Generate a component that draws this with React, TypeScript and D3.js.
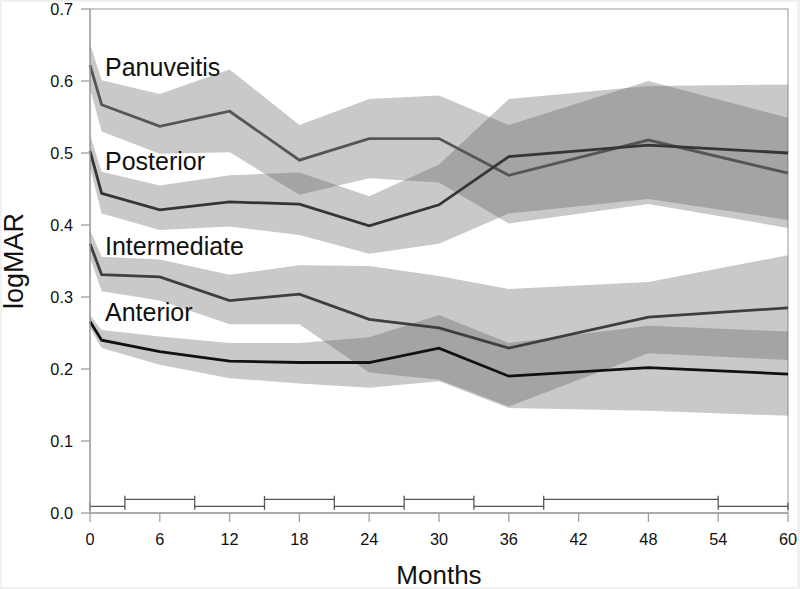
import React from "react";
import * as d3 from "d3";

const months = [0, 1, 6, 12, 18, 24, 30, 36, 48, 60];

const panuveitis = [0.622, 0.567, 0.537, 0.558, 0.49, 0.52, 0.52, 0.469, 0.518, 0.472];
const panuveitisUpper = [0.652, 0.601, 0.582, 0.616, 0.539, 0.575, 0.58, 0.539, 0.6, 0.549];
const panuveitisLower = [0.59, 0.53, 0.499, 0.501, 0.442, 0.465, 0.459, 0.402, 0.429, 0.396];

const posterior = [0.503, 0.444, 0.421, 0.432, 0.429, 0.399, 0.428, 0.495, 0.511, 0.5];
const posteriorUpper = [0.525, 0.474, 0.455, 0.469, 0.473, 0.44, 0.484, 0.575, 0.593, 0.595];
const posteriorLower = [0.48, 0.416, 0.393, 0.398, 0.386, 0.36, 0.374, 0.416, 0.436, 0.407];

const intermediate = [0.374, 0.331, 0.328, 0.295, 0.304, 0.269, 0.257, 0.229, 0.272, 0.285];
const intermediateUpper = [0.393, 0.356, 0.352, 0.331, 0.344, 0.343, 0.329, 0.311, 0.321, 0.358];
const intermediateLower = [0.355, 0.308, 0.295, 0.262, 0.262, 0.195, 0.185, 0.148, 0.222, 0.2125];

const anterior = [0.266, 0.24, 0.224, 0.211, 0.209, 0.209, 0.229, 0.19, 0.202, 0.193];
const anteriorUpper = [0.275, 0.254, 0.245, 0.236, 0.236, 0.244, 0.275, 0.236, 0.26, 0.252];
const anteriorLower = [0.257, 0.229, 0.206, 0.187, 0.18, 0.174, 0.183, 0.146, 0.142, 0.135];

const seriesNames = ["Panuveitis", "Posterior", "Intermediate", "Anterior"];
const labelValues = [0.607, 0.477, 0.358, 0.266];

const xTicks = [0, 6, 12, 18, 24, 30, 36, 42, 48, 54, 60];
const yTicks = [0, 0.1, 0.2, 0.3, 0.4, 0.5, 0.6, 0.7];

// follow-up interval brackets
const bracketStarts = [0, 3, 9, 15, 21, 27, 33, 39, 54];
const bracketEnds = [3, 9, 15, 21, 27, 33, 39, 54, 60];
const bracketLevels = [0.0093, 0.019, 0.0093, 0.019, 0.0093, 0.019, 0.0093, 0.019, 0.0093];

const W = 800;
const H = 589;
const left = 90;
const right = 788;
const top = 9;
const bottom = 513;

export default function App() {
  const x = d3.scaleLinear().domain([0, 60]).range([left, right]);
  const y = d3.scaleLinear().domain([0, 0.7]).range([bottom, top]);

  const series = [
    { name: "Panuveitis", mid: panuveitis, up: panuveitisUpper, lo: panuveitisLower, color: "#555555" },
    { name: "Posterior", mid: posterior, up: posteriorUpper, lo: posteriorLower, color: "#353535" },
    { name: "Intermediate", mid: intermediate, up: intermediateUpper, lo: intermediateLower, color: "#3e3e3e" },
    { name: "Anterior", mid: anterior, up: anteriorUpper, lo: anteriorLower, color: "#111111" },
  ];

  const lineGen = d3
    .line<number>()
    .x((_, i) => x(months[i]))
    .y((d) => y(d));

  const bandPath = (up: number[], lo: number[]) =>
    d3
      .area<number>()
      .x((_, i) => x(months[i]))
      .y0((_, i) => y(lo[i]))
      .y1((_, i) => y(up[i]))(months);

  const font = "'Liberation Sans', Arial, sans-serif";

  return (
    <svg
      width={W}
      height={H}
      style={{ position: "fixed", left: 0, top: 0 }}
      fontFamily={font}
    >
      <rect x={0} y={0} width={W} height={H} fill="#f1f1f1" />
      <rect x={2} y={2} width={795} height={585} fill="#ffffff" />

      <rect x={left} y={top} width={right - left} height={bottom - top} fill="none" stroke="#a8a8a8" strokeWidth={1.2} />

      {series.map((s) => (
        <path key={s.name + "b"} d={bandPath(s.up, s.lo) || ""} fill="#575757" fillOpacity={0.32} />
      ))}

      {series.map((s) => (
        <path key={s.name + "l"} d={lineGen(s.mid) || ""} fill="none" stroke={s.color} strokeWidth={2.8} />
      ))}

      {seriesNames.map((n, i) => (
        <text key={n} x={105} y={y(labelValues[i])} fontSize={25} fill="#111">
          {n}
        </text>
      ))}

      {bracketStarts.map((s, i) => {
        const yy = y(bracketLevels[i]);
        const x0 = x(s);
        const x1 = x(bracketEnds[i]);
        return (
          <g key={"br" + i} stroke="#555" strokeWidth={1.3}>
            <line x1={x0} x2={x1} y1={yy} y2={yy} />
            <line x1={x0} x2={x0} y1={yy - 3.5} y2={yy + 3.5} />
            <line x1={x1} x2={x1} y1={yy - 3.5} y2={yy + 3.5} />
          </g>
        );
      })}

      <line x1={left} x2={left} y1={top} y2={bottom} stroke="#a0a0a0" strokeWidth={1.3} />
      <line x1={left} x2={right} y1={bottom} y2={bottom} stroke="#a0a0a0" strokeWidth={1.3} />
      {yTicks.map((t) => (
        <g key={"yt" + t}>
          <line x1={left - 9} x2={left} y1={y(t)} y2={y(t)} stroke="#a0a0a0" strokeWidth={1.3} />
          <text x={73} y={y(t) + 6} fontSize={16.3} textAnchor="end" fill="#111">
            {t.toFixed(1)}
          </text>
        </g>
      ))}
      {xTicks.map((t) => (
        <g key={"xt" + t}>
          <line x1={x(t)} x2={x(t)} y1={bottom} y2={bottom + 9} stroke="#a0a0a0" strokeWidth={1.3} />
          <text x={x(t)} y={545} fontSize={16.3} textAnchor="middle" fill="#111">
            {t}
          </text>
        </g>
      ))}

      <text x={(left + right) / 2} y={584} fontSize={26} textAnchor="middle" fill="#111">
        Months
      </text>
      <text
        transform={`translate(23, ${(top + bottom) / 2}) rotate(-90)`}
        fontSize={27}
        textAnchor="middle"
        fill="#111"
      >
        logMAR
      </text>
    </svg>
  );
}
